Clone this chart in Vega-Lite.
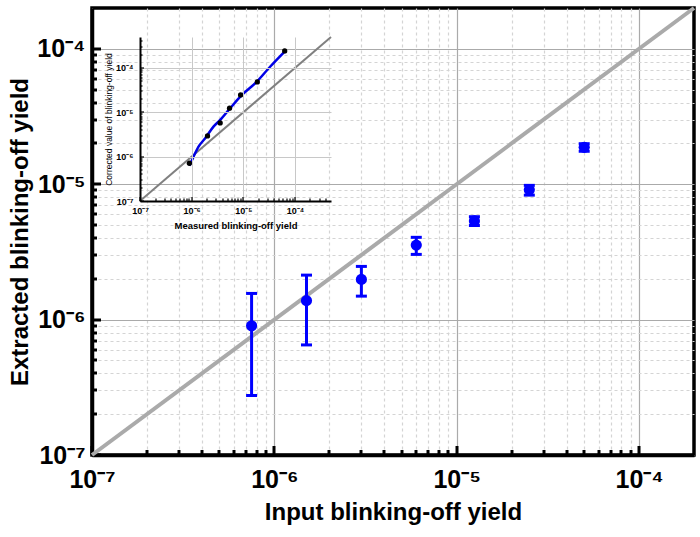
{
  "$schema": "https://vega.github.io/schema/vega-lite/v6.json",
  "width": 602,
  "height": 447,
  "autosize": "none",
  "padding": {"left": 92, "top": 8, "right": 6, "bottom": 82},
  "background": "white",
  "config": {
    "font": "Liberation Sans",
    "view": {"stroke": "black", "strokeWidth": 3.5}
  },
  "datasets": {
    "pts": [
      {"x": 7.5e-7, "y": 9.0e-7, "lo": 2.75e-7, "hi": 1.56e-6},
      {"x": 1.5e-6, "y": 1.38e-6, "lo": 6.5e-7, "hi": 2.13e-6},
      {"x": 3.0e-6, "y": 1.98e-6, "lo": 1.49e-6, "hi": 2.47e-6},
      {"x": 6.0e-6, "y": 3.55e-6, "lo": 3.03e-6, "hi": 4.05e-6},
      {"x": 1.25e-5, "y": 5.35e-6, "lo": 4.95e-6, "hi": 5.75e-6},
      {"x": 2.5e-5, "y": 9.08e-6, "lo": 8.3e-6, "hi": 9.8e-6},
      {"x": 5.0e-5, "y": 1.87e-5, "lo": 1.75e-5, "hi": 1.99e-5}
    ],
    "diag": [{"x": 1e-7, "y": 1e-7}, {"x": 2e-4, "y": 2e-4}],
    "inset_diag": [{"x": 1e-7, "y": 1e-7}, {"x": 5e-4, "y": 5e-4}],
    "inset_pts": [
      {"x": 9.05e-7, "y": 7.1e-7},
      {"x": 2.03e-6, "y": 2.93e-6},
      {"x": 3.57e-6, "y": 5.77e-6},
      {"x": 5.42e-6, "y": 1.24e-5},
      {"x": 8.87e-6, "y": 2.47e-5},
      {"x": 1.87e-5, "y": 4.85e-5},
      {"x": 6.34e-5, "y": 2.43e-4}
    ],
    "inset_fit": [
      {"x": 9.08e-7, "y": 6.26e-7},
      {"x": 1.09e-6, "y": 1.0e-6},
      {"x": 1.36e-6, "y": 1.68e-6},
      {"x": 1.83e-6, "y": 2.6e-6},
      {"x": 2.65e-6, "y": 4.76e-6},
      {"x": 3.57e-6, "y": 6.73e-6},
      {"x": 5.59e-6, "y": 1.24e-5},
      {"x": 8.75e-6, "y": 2.26e-5},
      {"x": 1.84e-5, "y": 4.94e-5},
      {"x": 3.34e-5, "y": 1.08e-4},
      {"x": 6.34e-5, "y": 2.35e-4}
    ]
  },
  "layer": [
    {
      "data": {"name": "diag"},
      "mark": {"type": "line", "color": "#aaaaaa", "strokeWidth": 4},
      "encoding": {
        "x": {
          "field": "x", "type": "quantitative",
          "scale": {"type": "log", "domain": [1e-7, 2e-4], "nice": false},
          "axis": {
            "orient": "bottom", "title": null, "translate": -5, "position": 5,
            "values": [2e-7,3e-7,4e-7,5e-7,6e-7,7e-7,8e-7,9e-7,2e-6,3e-6,4e-6,5e-6,6e-6,7e-6,8e-6,9e-6,2e-5,3e-5,4e-5,5e-5,6e-5,7e-5,8e-5,9e-5],
            "labels": false, "domain": false, "grid": false,
            "ticks": true, "tickColor": "black", "tickWidth": 3, "tickSize": 5
          }
        },
        "y": {
          "field": "y", "type": "quantitative",
          "scale": {"type": "log", "domain": [1e-7, 2e-4], "nice": false},
          "axis": {
            "orient": "left", "title": null, "translate": 5, "position": -5,
            "values": [2e-7,3e-7,4e-7,5e-7,6e-7,7e-7,8e-7,9e-7,2e-6,3e-6,4e-6,5e-6,6e-6,7e-6,8e-6,9e-6,2e-5,3e-5,4e-5,5e-5,6e-5,7e-5,8e-5,9e-5],
            "labels": false, "domain": false, "grid": false,
            "ticks": true, "tickColor": "black", "tickWidth": 3, "tickSize": 5
          }
        }
      }
    },
    {
      "data": {"name": "pts"},
      "mark": {"type": "rule", "color": "#0000ff", "strokeWidth": 3},
      "encoding": {
        "x": {
          "field": "x", "type": "quantitative",
          "scale": {"type": "log", "domain": [1e-7, 2e-4], "nice": false},
          "axis": {
            "orient": "bottom", "title": null, "translate": -9, "position": 9,
            "values": [1e-7, 1e-6, 1e-5, 1e-4],
            "labels": false, "domain": false, "grid": false,
            "ticks": true, "tickColor": "black", "tickWidth": 3, "tickSize": 9
          }
        },
        "y": {
          "field": "lo", "type": "quantitative",
          "scale": {"type": "log", "domain": [1e-7, 2e-4], "nice": false},
          "axis": {
            "orient": "left", "title": null, "translate": 9, "position": -9,
            "values": [1e-7, 1e-6, 1e-5, 1e-4],
            "labels": false, "domain": false, "grid": false,
            "ticks": true, "tickColor": "black", "tickWidth": 3, "tickSize": 9
          }
        },
        "y2": {"field": "hi"}
      }
    },
    {
      "data": {"name": "pts"},
      "encoding": {
        "x": {
          "field": "x", "type": "quantitative",
          "scale": {"type": "log", "domain": [1e-7, 2e-4], "nice": false},
          "axis": {
            "orient": "bottom",
            "title": "Input blinking-off yield",
            "titleFontSize": 24, "titleFontWeight": "bold", "titleColor": "black", "titlePadding": 8,
            "values": [1e-7,2e-7,3e-7,4e-7,5e-7,6e-7,7e-7,8e-7,9e-7,1e-6,2e-6,3e-6,4e-6,5e-6,6e-6,7e-6,8e-6,9e-6,1e-5,2e-5,3e-5,4e-5,5e-5,6e-5,7e-5,8e-5,9e-5,1e-4],
            "labelExpr": "abs(log(datum.value)/LN10 - round(log(datum.value)/LN10)) > 0.01 ? '' : '10⁻' + ['⁰','¹','²','³','⁴','⁵','⁶','⁷','⁸','⁹'][-round(log(datum.value)/LN10)]",
            "labelFontSize": 25, "labelFontWeight": "bold", "labelColor": "black",
            "labelFlush": false, "labelOverlap": false, "labelBound": false,
            "labelPadding": 12,
            "ticks": false,
            "domainColor": "black", "domainWidth": 3.5,
            "grid": true,
            "gridColor": {"condition": {"test": "abs(log(datum.value)/LN10 - round(log(datum.value)/LN10)) < 0.01", "value": "#aaaaaa"}, "value": "#d4d4d4"},
            "gridDash": {"condition": {"test": "abs(log(datum.value)/LN10 - round(log(datum.value)/LN10)) < 0.01", "value": []}, "value": [3, 3]},
            "gridWidth": 1.2
          }
        }
      },
      "layer": [
        {
          "mark": {"type": "tick", "color": "#0000ff", "orient": "horizontal", "size": 11, "thickness": 3, "opacity": 1},
          "encoding": {
            "y": {
              "field": "lo", "type": "quantitative",
              "scale": {"type": "log", "domain": [1e-7, 2e-4], "nice": false},
              "axis": {
                "orient": "left",
                "title": "Extracted blinking-off yield",
                "titleFontSize": 24, "titleFontWeight": "bold", "titleColor": "black", "titlePadding": 4,
                "values": [1e-7,2e-7,3e-7,4e-7,5e-7,6e-7,7e-7,8e-7,9e-7,1e-6,2e-6,3e-6,4e-6,5e-6,6e-6,7e-6,8e-6,9e-6,1e-5,2e-5,3e-5,4e-5,5e-5,6e-5,7e-5,8e-5,9e-5,1e-4],
                "labelExpr": "abs(log(datum.value)/LN10 - round(log(datum.value)/LN10)) > 0.01 ? '' : '10⁻' + ['⁰','¹','²','³','⁴','⁵','⁶','⁷','⁸','⁹'][-round(log(datum.value)/LN10)]",
                "labelFontSize": 25, "labelFontWeight": "bold", "labelColor": "black",
                "labelFlush": false, "labelOverlap": false, "labelBound": false,
                "labelPadding": 7,
                "ticks": false,
                "domainColor": "black", "domainWidth": 3.5,
                "grid": true,
                "gridColor": {"condition": {"test": "abs(log(datum.value)/LN10 - round(log(datum.value)/LN10)) < 0.01", "value": "#aaaaaa"}, "value": "#d4d4d4"},
                "gridDash": {"condition": {"test": "abs(log(datum.value)/LN10 - round(log(datum.value)/LN10)) < 0.01", "value": []}, "value": [3, 3]},
                "gridWidth": 1.2
              }
            }
          }
        },
        {
          "mark": {"type": "tick", "color": "#0000ff", "orient": "horizontal", "size": 11, "thickness": 3, "opacity": 1},
          "encoding": {
            "y": {"field": "hi", "type": "quantitative", "title": "Extracted blinking-off yield"}
          }
        },
        {
          "mark": {"type": "circle", "color": "#0000ff", "size": 125, "opacity": 1},
          "encoding": {
            "y": {"field": "y", "type": "quantitative", "title": "Extracted blinking-off yield"}
          }
        }
      ]
    },
    {
      "mark": {"type": "rect", "fill": "white", "stroke": "black", "strokeWidth": 2},
      "encoding": {
        "x": {
          "datum": 1e-7, "type": "quantitative",
          "scale": {"type": "log", "domain": [1e-7, 5e-4], "nice": false, "range": [48, 239]},
          "axis": {
            "orient": "top", "offset": 0, "zindex": 1, "title": null,
            "values": [1e-6, 1e-5, 1e-4],
            "labels": false, "ticks": false, "domain": false,
            "grid": true, "gridColor": "#c8c8c8", "gridWidth": 1
          }
        },
        "x2": {"datum": 5e-4},
        "y": {
          "datum": 1e-7, "type": "quantitative",
          "scale": {"type": "log", "domain": [1e-7, 5e-4], "nice": false, "range": [193, 29]},
          "axis": {
            "orient": "left", "offset": 0, "zindex": 1, "title": null,
            "values": [1e-6, 1e-5, 1e-4],
            "labels": false, "ticks": false, "domain": false,
            "grid": true, "gridColor": "#c8c8c8", "gridWidth": 1
          }
        },
        "y2": {"datum": 5e-4}
      }
    },
    {
      "data": {"name": "inset_diag"},
      "mark": {"type": "line", "color": "#808080", "strokeWidth": 2},
      "encoding": {
        "x": {
          "field": "x", "type": "quantitative",
          "scale": {"type": "log", "domain": [1e-7, 5e-4], "nice": false, "range": [48, 239]},
          "axis": {
            "orient": "bottom", "offset": -254, "translate": -2.5, "position": 2.5, "zindex": 1, "title": null,
            "values": [2e-7,3e-7,4e-7,5e-7,6e-7,7e-7,8e-7,9e-7,2e-6,3e-6,4e-6,5e-6,6e-6,7e-6,8e-6,9e-6,2e-5,3e-5,4e-5,5e-5,6e-5,7e-5,8e-5,9e-5,2e-4,3e-4,4e-4],
            "labels": false, "domain": false, "grid": false,
            "ticks": true, "tickColor": "black", "tickWidth": 1.2, "tickSize": 2.5
          }
        },
        "y": {
          "field": "y", "type": "quantitative",
          "scale": {"type": "log", "domain": [1e-7, 5e-4], "nice": false, "range": [193, 29]},
          "axis": {
            "orient": "left", "offset": -48, "translate": 2.5, "position": -2.5, "zindex": 1, "title": null,
            "values": [2e-7,3e-7,4e-7,5e-7,6e-7,7e-7,8e-7,9e-7,2e-6,3e-6,4e-6,5e-6,6e-6,7e-6,8e-6,9e-6,2e-5,3e-5,4e-5,5e-5,6e-5,7e-5,8e-5,9e-5,2e-4,3e-4,4e-4],
            "labels": false, "domain": false, "grid": false,
            "ticks": true, "tickColor": "black", "tickWidth": 1.2, "tickSize": 2.5
          }
        }
      }
    },
    {
      "data": {"name": "inset_fit"},
      "mark": {"type": "line", "color": "#0000e6", "strokeWidth": 2.5, "interpolate": "monotone"},
      "encoding": {
        "x": {
          "field": "x", "type": "quantitative",
          "scale": {"type": "log", "domain": [1e-7, 5e-4], "nice": false, "range": [48, 239]},
          "axis": {
            "orient": "bottom", "offset": -254, "zindex": 1,
            "title": "Measured blinking-off yield",
            "titleFontSize": 9.5, "titleFontWeight": "bold", "titleColor": "black", "titlePadding": 5,
            "values": [1e-7, 1e-6, 1e-5, 1e-4],
            "labelExpr": "'10⁻' + ['⁰','¹','²','³','⁴','⁵','⁶','⁷','⁸','⁹'][-round(log(datum.value)/LN10)]",
            "labelFontSize": 9, "labelFontWeight": "bold", "labelColor": "black",
            "labelFlush": false, "labelOverlap": false, "labelBound": false,
            "labelPadding": 5,
            "ticks": false,
            "domainColor": "black", "domainWidth": 2,
            "grid": false
          }
        },
        "y": {
          "field": "y", "type": "quantitative",
          "scale": {"type": "log", "domain": [1e-7, 5e-4], "nice": false, "range": [193, 29]},
          "axis": {
            "orient": "left", "offset": -48, "zindex": 1,
            "title": "Corrected value of blinking-off yield",
            "titleFontSize": 8.5, "titleFontWeight": "normal", "titleColor": "black", "titlePadding": 2,
            "values": [1e-7, 1e-6, 1e-5, 1e-4],
            "labelExpr": "'10⁻' + ['⁰','¹','²','³','⁴','⁵','⁶','⁷','⁸','⁹'][-round(log(datum.value)/LN10)]",
            "labelFontSize": 9, "labelFontWeight": "bold", "labelColor": "black",
            "labelFlush": false, "labelOverlap": false, "labelBound": false,
            "labelPadding": 7,
            "ticks": false,
            "domainColor": "black", "domainWidth": 2,
            "grid": false
          }
        }
      }
    },
    {
      "data": {"name": "inset_pts"},
      "mark": {"type": "circle", "color": "black", "size": 28, "opacity": 1},
      "encoding": {
        "x": {
          "field": "x", "type": "quantitative",
          "scale": {"type": "log", "domain": [1e-7, 5e-4], "nice": false, "range": [48, 239]},
          "axis": {
            "orient": "bottom", "offset": -254, "translate": -4, "position": 4, "zindex": 1, "title": null,
            "values": [1e-7, 1e-6, 1e-5, 1e-4],
            "labels": false, "domain": false, "grid": false,
            "ticks": true, "tickColor": "black", "tickWidth": 1.2, "tickSize": 4
          }
        },
        "y": {
          "field": "y", "type": "quantitative",
          "scale": {"type": "log", "domain": [1e-7, 5e-4], "nice": false, "range": [193, 29]},
          "axis": {
            "orient": "left", "offset": -48, "translate": 4, "position": -4, "zindex": 1, "title": null,
            "values": [1e-7, 1e-6, 1e-5, 1e-4],
            "labels": false, "domain": false, "grid": false,
            "ticks": true, "tickColor": "black", "tickWidth": 1.2, "tickSize": 4
          }
        }
      }
    }
  ],
  "resolve": {
    "scale": {"x": "independent", "y": "independent"},
    "axis": {"x": "independent", "y": "independent"}
  }
}
